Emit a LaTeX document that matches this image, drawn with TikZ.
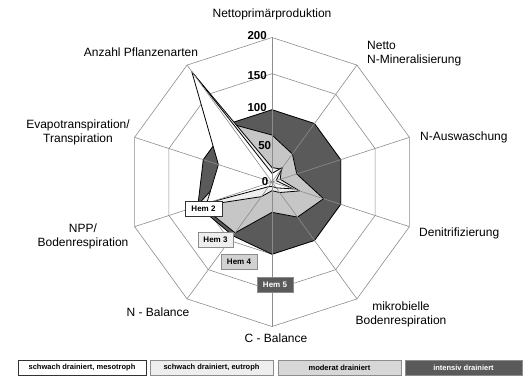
\documentclass[tikz,border=0pt]{standalone}
\usepackage{fontspec}
\setmainfont{Liberation Sans}
\usepackage{tikz}

\definecolor{hemtwo}{HTML}{FFFFFF}
\definecolor{hemthree}{HTML}{EEEEEE}
\definecolor{hemfour}{HTML}{C6C6C6}
\definecolor{hemfive}{HTML}{5A5A5A}
\definecolor{gridgray}{HTML}{8C8C8C}

\tikzset{
	gridline/.style={draw=gridgray,line width=0.6bp},
	series/.style={draw=black,line width=0.8bp,line join=round},
	axislabel/.style={font=\fontsize{12bp}{14bp}\selectfont,align=center,inner sep=0pt},
	scalelabel/.style={font=\bfseries\fontsize{11.5bp}{12bp}\selectfont,anchor=east,inner sep=0pt},
	hembox/.style={draw=gridgray,line width=0.6bp,font=\bfseries\fontsize{8bp}{9bp}\selectfont,
		minimum height=15bp,inner sep=0pt},
	legendbox/.style={draw=gridgray,line width=0.6bp,font=\bfseries\fontsize{7.5bp}{8bp}\selectfont,
		minimum height=15bp,inner sep=0pt}
}

\begin{document}
\begin{tikzpicture}[x=1bp,y=1bp]
		\useasboundingbox (0,0) rectangle (523,376);
		%
		\begin{scope}[shift={(272,194)},x=0.7225bp,y=0.7225bp]
		\coordinate (o) at (0,0);
		% rings
		\foreach \r in {50,100,150,200}{
			\draw[gridline] (90:\r) foreach \a in {54,18,-18,-54,-90,-126,-162,162,126}{ -- (\a:\r)} -- cycle;
		}
		% series: intensiv, moderat, eutroph, mesotroph
		\filldraw[series,fill=hemfive] (90:100) -- (54:100) -- (18:100) -- (-18:100) -- (-54:100)
			-- (-90:100) -- (-126:92) -- (-162:108) -- (162:100) -- (126:100) -- cycle;
		\filldraw[series,fill=hemfour] (90:65) -- (54:48) -- (18:36) -- (-18:75) -- (-54:60)
			-- (-90:42) -- (-126:87) -- (-162:104) -- (162:45) -- (126:100) -- cycle;
		\filldraw[series,fill=hemthree] (90:20) -- (54:22) -- (18:12) -- (-18:40) -- (-54:18)
			-- (-90:12) -- (-126:25) -- (-162:110) -- (162:60) -- (126:186) -- cycle;
		\filldraw[series,fill=hemtwo] (90:12) -- (54:25) -- (18:6) -- (-18:31) -- (-54:10)
			-- (-90:6) -- (-126:8) -- (-162:95) -- (162:78) -- (126:189) -- cycle;
		% spokes
		\foreach \a [count=\i] in {90,54,18,-18,-54,-90,-126,-162,162,126}{
			\coordinate (v\i) at (\a:200);
			\draw[gridline] (o) -- (v\i);
		}
		% scale
		\node[scalelabel] (s200) at (-7,203) {200};
		\node[scalelabel] (s150) at (-7,147) {150};
		\node[scalelabel] (s100) at (-7,103) {100};
		\node[scalelabel] (s50) at (-1,51) {50};
		\node[scalelabel] (s0) at (-5,1) {0};
		\end{scope}
		%
		% axis labels
		\node[axislabel] (npp) at (272,362) {Nettoprimärproduktion};
		\node[axislabel,anchor=west,align=left] (nmin) at (367,322) {Netto\\N-Mineralisierung};
		\node[axislabel,anchor=west] (naus) at (420,239) {N-Auswaschung};
		\node[axislabel,anchor=west] (deni) at (419,143) {Denitrifizierung};
		\node[axislabel] (mikro) at (401,62) {mikrobielle\\Bodenrespiration};
		\node[axislabel] (cbal) at (276,38) {C - Balance};
		\node[axislabel] (nbal) at (158,64) {N - Balance};
		\node[axislabel] (nppb) at (83,140) {NPP/\\Bodenrespiration};
		\node[axislabel] (evapo) at (78,244) {Evapotranspiration/\\Transpiration};
		\node[axislabel] (arten) at (141,324) {Anzahl Pflanzenarten};
		%
		% series labels
		\node[hembox,draw=black!80,fill=hemtwo,minimum width=37bp] (hem2) at (203.5,167.5) {Hem 2};
		\node[hembox,fill=hemthree,minimum width=35bp] (hem3) at (215.5,136.5) {Hem 3};
		\node[hembox,fill=hemfour!80,minimum width=36bp] (hem4) at (239,114.5) {Hem 4};
		\node[hembox,fill=hemfive,text=white,minimum width=36bp] (hem5) at (275,91) {Hem 5};
		%
		% legend
		\node[legendbox,draw=black!80,fill=hemtwo,minimum width=128bp] (leg2) at (82,8.5) {schwach drainiert, mesotroph};
		\node[legendbox,fill=hemthree,minimum width=123bp] (leg3) at (211.5,8.5) {schwach drainiert, eutroph};
		\node[legendbox,fill=hemfour!70,minimum width=123bp] (leg4) at (339.5,8.5) {moderat drainiert};
		\node[legendbox,fill=hemfive,text=white,minimum width=117bp] (leg5) at (463.5,8.5) {intensiv drainiert};
	\end{tikzpicture}
\end{document}
